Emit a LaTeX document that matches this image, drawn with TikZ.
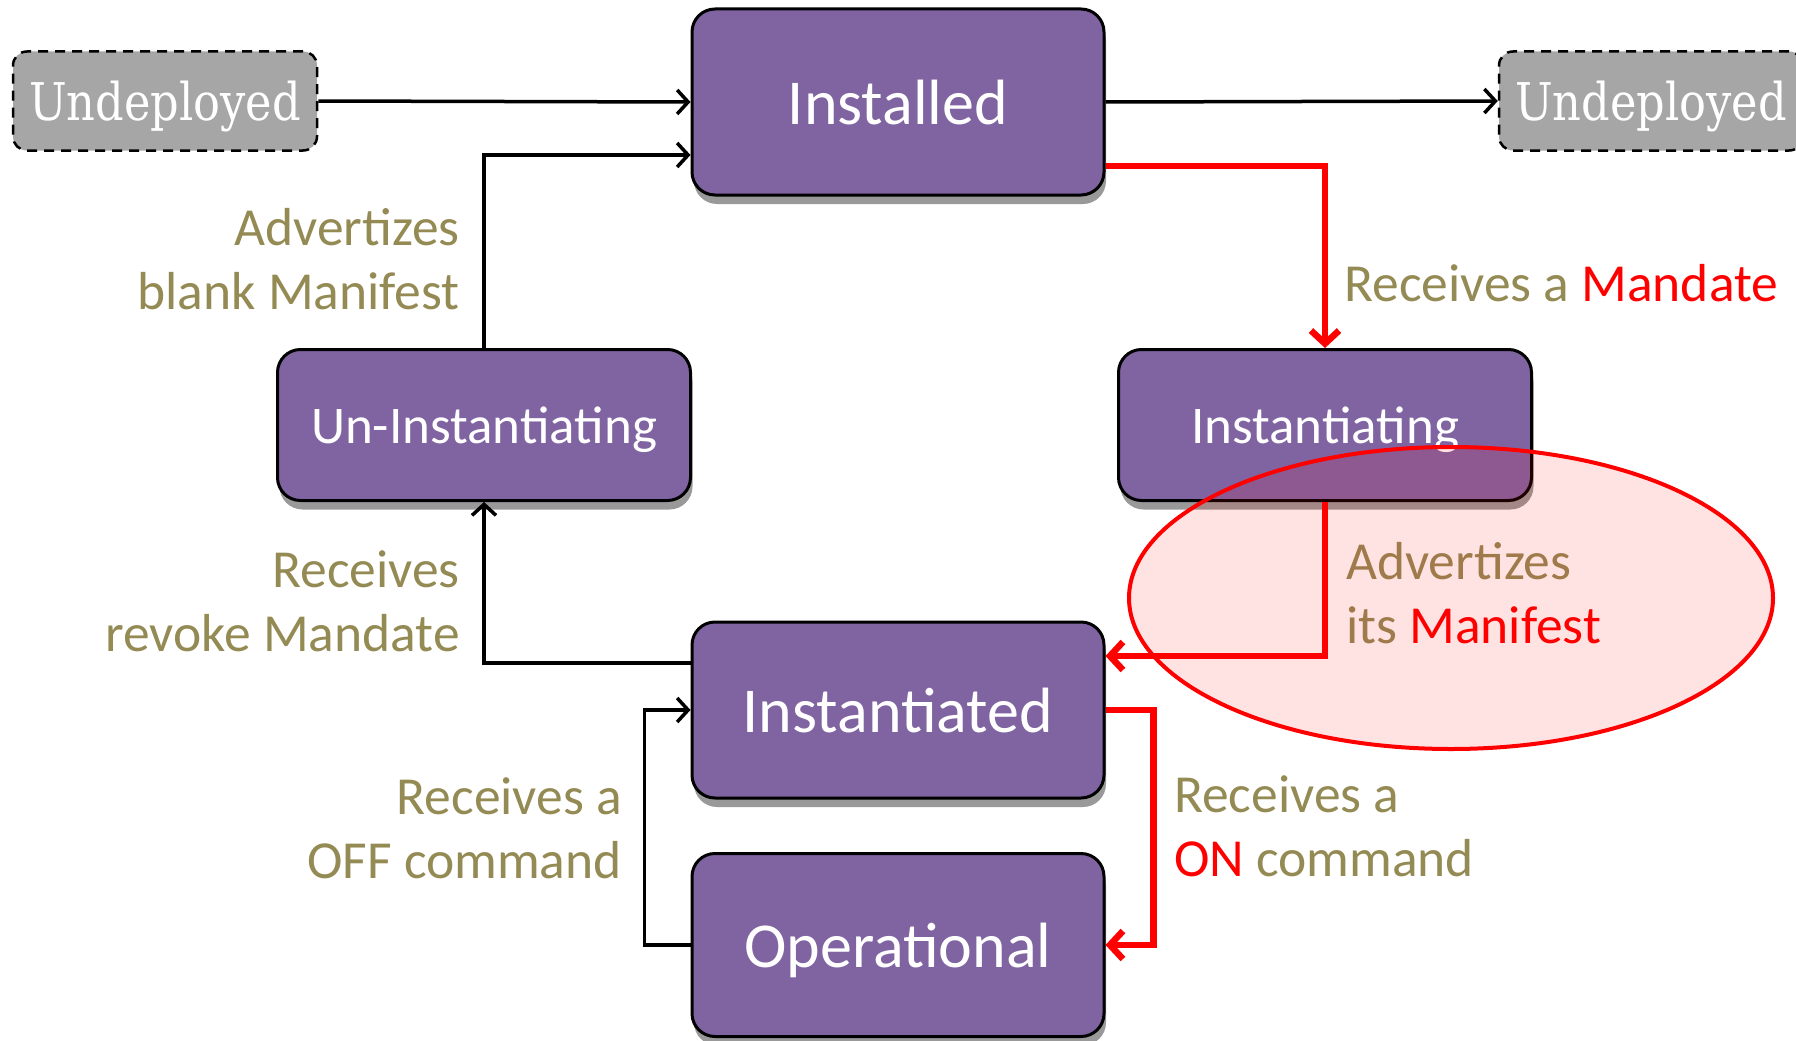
\documentclass[tikz,border=0pt]{standalone}
\usepackage{fontspec}
\setmainfont{Carlito}
\newfontfamily\slabfont[FakeStretch=0.86]{DejaVu Serif}
\usetikzlibrary{arrows.meta,shadows}
\definecolor{statefill}{HTML}{8064A2}
\definecolor{olivetext}{HTML}{948A54}
\tikzset{
  state/.style={rectangle, rounded corners=23pt, draw, line width=3pt, fill=statefill, text=white,
    minimum width=412pt, text depth=0pt,
    drop shadow={shadow xshift=2pt, shadow yshift=-9pt, fill=black!40, opacity=1}},
  ghost/.style={rectangle, rounded corners=14pt, draw, dash pattern=on 10pt off 7pt, line width=2.5pt,
    fill=black!35, text=white, minimum width=304pt, minimum height=99pt, text depth=0pt,
    font=\slabfont\fontsize{52}{60}\selectfont},
  lbl/.style={text=olivetext, inner sep=0pt, font=\fontsize{53.5}{64}\selectfont},
  arr/.style={-{Straight Barb[length=11pt,width=24pt]}, line width=3.5pt},
  redarr/.style={-{Straight Barb[length=13pt,width=28pt]}, line width=6.5pt, red},
}
\begin{document}
\begin{tikzpicture}[x=1pt, y=-1pt]
\useasboundingbox (0,0) rectangle (1796,1041);

\node[ghost] (v0) at (165,101) {Undeployed};
\node[state, minimum height=186pt, font=\fontsize{64}{70}\selectfont] (v1) at (898,102) {Installed};
\node[ghost] (v2) at (1651,101) {Undeployed};
\node[state, minimum width=413pt, minimum height=151pt, font=\fontsize{53}{60}\selectfont] (v3) at (484,425) {Un-Instantiating};
\node[state, minimum width=413pt, minimum height=151pt, font=\fontsize{53}{60}\selectfont] (v4) at (1325,425) {Instantiating};
\node[state, minimum height=176pt, font=\fontsize{64}{70}\selectfont] (v5) at (898,710) {Instantiated};
\node[state, minimum height=183pt, font=\fontsize{64}{70}\selectfont] (v6) at (898,945) {Operational};

\node[lbl, anchor=east, align=right] (l1) at (460,259) {Advertizes\\blank Manifest};
\node[lbl, anchor=east, align=right] (l2) at (460,601) {Receives\\revoke Mandate};
\node[lbl, anchor=east, align=right] (l3) at (622,828) {Receives a\\OFF command};
\node[lbl, anchor=west, align=left] (l4) at (1174,826) {Receives a\\{\color{red}ON} command};
\node[lbl, anchor=west, align=left] (l5) at (1346,593) {Advertizes\\its {\color{red}Manifest}};
\node[lbl, anchor=west] (l6) at (1344,283) {Receives a {\color{red}Mandate}};

\draw[arr] (v0.east) -- (v1.west);
\draw[arr] (v1.east) -- (v2.west);
\draw[arr] (v3.north) |- ([yshift=-53pt]v1.west);
\draw[redarr] ([yshift=-64pt]v1.east) -| (v4.north);
\draw[redarr] (v4.south) |- ([yshift=54pt]v5.east);
\draw[arr] ([yshift=47pt]v5.west) -| (v3.south);
\draw[redarr] (v5.east) -- ++(48,0) |- (v6.east);
\draw[arr] (v6.west) -- ++(-46,0) |- (v5.west);

\draw[red, line width=4pt, fill=red, fill opacity=0.11] (1451,598) ellipse [x radius=322pt, y radius=151pt];

\end{tikzpicture}
\end{document}
